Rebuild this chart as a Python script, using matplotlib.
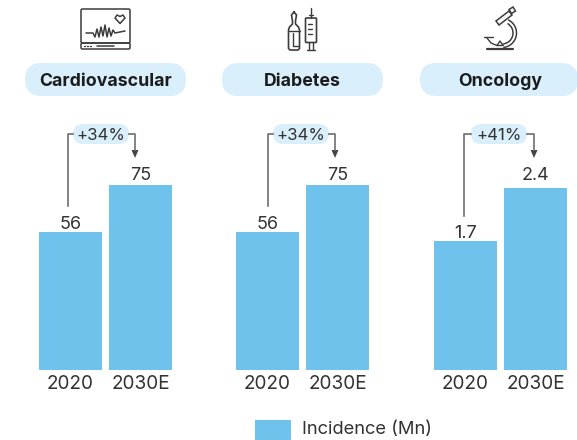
import matplotlib
matplotlib.use("Agg")
import matplotlib.pyplot as plt
from matplotlib.patches import FancyBboxPatch, Rectangle, Polygon, Arc

W, H = 577, 440
TITLES = ["Cardiovascular", "Diabetes", "Oncology"]
YEARS = ["2020", "2030E"]
VALUES_CARDIO = [56, 75]
VALUES_DIAB = [56, 75]
VALUES_ONCO = [1.7, 2.4]
VALUE_LABELS = [["56", "75"], ["56", "75"], ["1.7", "2.4"]]
GROWTH = ["+34%", "+41%"]
LEGEND = "Incidence (Mn)"

BAR = "#6EC2EB"
PILL = "#D9EFFB"
TXT = "#333333"
LINE = "#6e6e6e"
ICON = "#3c3c3c"
REG = "Inter"
BOLD = "Inter"

def px(v):
    return v * 0.72

fig = plt.figure(figsize=(W / 100, H / 100), dpi=100, facecolor="white")

ov = fig.add_axes([0, 0, 1, 1], zorder=1)
ov.set_xlim(0, W)
ov.set_ylim(H, 0)
ov.axis("off")

def pill(x0, x1, y0, y1, color=PILL):
    r = (y1 - y0) / 2
    ov.add_patch(FancyBboxPatch((x0 + r, y0 + r), x1 - x0 - 2 * r, 0.001,
                                boxstyle=f"round,pad={r},rounding_size={r}",
                                fc=color, ec="none", clip_on=True, mutation_aspect=1))

panels = [
    dict(left=39, vals=VALUES_CARDIO, scale=185 / 75, pill=(25, 186), cx=105.5,
         gp=(73, 129), gl=68, ga=135, lend=206.5, growth=GROWTH[0], off=(3, 5)),
    dict(left=236, vals=VALUES_DIAB, scale=185 / 75, pill=(222, 383), cx=302.5,
         gp=(273, 329), gl=268, ga=335, lend=206.5, growth=GROWTH[0], off=(3, 5)),
    dict(left=434, vals=VALUES_ONCO, scale=182 / 2.4, pill=(420, 578), cx=500,
         gp=(471, 527), gl=464, ga=534, lend=216, growth=GROWTH[1], off=(3, 8)),
]
BAR_W, BAR_STEP, BASE, TOP = 63, 70, 370, 100

for i, p in enumerate(panels):
    x0 = p["left"] - (BAR_STEP - BAR_W) / 2
    ax = fig.add_axes([x0 / W, 1 - BASE / H, 2 * BAR_STEP / W, (BASE - TOP) / H], zorder=0)
    ax.set_xlim(-0.5, 1.5)
    ax.set_ylim(0, (BASE - TOP) / p["scale"])
    bars = ax.bar(range(2), p["vals"], width=BAR_W / BAR_STEP, color=BAR)
    ax.set_xticks(range(2), YEARS, fontsize=px(19), color=TXT, family=REG)
    ax.tick_params(axis="x", length=0, pad=3.5)
    ax.set_yticks([])
    for s in ax.spines.values():
        s.set_visible(False)
    ax.patch.set_alpha(0)
    for b, lab, off in zip(bars, VALUE_LABELS[i], p["off"]):
        ax.annotate(lab, (b.get_x() + b.get_width() / 2, b.get_height()),
                    xytext=(0, px(off)), textcoords="offset points", ha="center", va="baseline",
                    fontsize=px(18), color=TXT, family=REG)
    pill(p["pill"][0], p["pill"][1], 63, 96)
    ov.text(p["cx"], 81.5, TITLES[i], ha="center", va="center", fontsize=px(17.7),
            fontweight="bold", family=BOLD, color="#1c1c1c")
    y = 134
    ov.plot([p["gl"], p["gl"], p["gp"][0]], [p["lend"], y, y], color=LINE, lw=1.2, solid_joinstyle="round")
    ov.plot([p["gp"][1], p["ga"], p["ga"]], [y, y, 150], color=LINE, lw=1.2, solid_joinstyle="round")
    ov.add_patch(Polygon([(p["ga"] - 3.5, 150), (p["ga"] + 3.5, 150), (p["ga"], 158)], fc="#444444", ec="none"))
    pill(p["gp"][0], p["gp"][1], 124, 144)
    ov.text(sum(p["gp"]) / 2, 135, p["growth"], ha="center", va="center",
            fontsize=px(16.8), color=TXT, family=REG)

def ln(xs, ys, lw=1.0):
    ov.plot(xs, ys, color=ICON, lw=lw, solid_capstyle="round", solid_joinstyle="round")

def box(x, y, w, h, r=1.5, lw=1.1):
    ov.add_patch(FancyBboxPatch((x + r, y + r), w - 2 * r, h - 2 * r,
                                boxstyle=f"round,pad={r},rounding_size={r}", fc="none", ec=ICON, lw=lw))

# monitor
box(81, 9, 49, 34)
box(81, 43, 49, 6)
ln([86, 93, 95, 97, 99, 101, 103, 105, 107, 109, 111, 113, 115, 125],
   [33, 33, 37, 29, 37, 27, 36, 25, 37, 28, 36, 30, 33, 31], 1.1)
ov.add_patch(Polygon([(115, 18), (117, 15), (120, 16.5), (123, 15), (125, 18), (120, 23.5)],
                     fc="none", ec=ICON, lw=1.1, joinstyle="round"))
ln([97, 114], [45.8, 45.8], 1.1)
ln([84, 85], [45.8, 45.8], 1.0); ln([87, 88], [45.8, 45.8], 1.0); ln([90, 91], [45.8, 45.8], 1.0)

# ampoule
ov.plot([294, 291.5, 292.5, 292.5, 289.5, 288.5, 288.5, 290, 298, 299.5, 299.5, 298.5, 295.5, 295.5, 296.5, 294],
        [12, 15, 21, 24, 27, 30, 48.5, 50, 50, 48.5, 30, 27, 24, 21, 15, 12], color=ICON, lw=1.2,
        solid_joinstyle="round")
ln([293, 293, 298], [33, 46, 46])
ln([288.5, 299.5], [31.5, 31.5])
# syringe
box(305.5, 18, 11, 24.5, r=1, lw=1.2)
ln([311, 311], [8, 18]); ln([309, 313], [15, 15])
ln([308, 312], [24, 24]); ln([308, 312], [29, 29]); ln([308, 312], [34, 34])
ln([309, 309], [42.5, 50]); ln([313, 313], [42.5, 50]); ln([307, 315], [50, 50])

# microscope
ln([487, 513], [49, 49], 1.6)
ln([484, 493], [37, 37]); ln([487, 491, 497, 503], [38, 43, 45.5, 45.5])
ln([497, 500, 503], [45.5, 41, 45.5])
ov.add_patch(Arc((502, 33), 29, 29, theta1=-65, theta2=85, ec=ICON, lw=1.1))
ov.add_patch(Arc((502, 33), 22, 22, theta1=-60, theta2=85, ec=ICON, lw=1.1))
ov.add_patch(Polygon([(496, 21), (509, 11), (512, 15), (499, 25)], fc="none", ec=ICON, lw=1.1))
ov.add_patch(Polygon([(509, 9.5), (513, 7), (515.5, 11), (511.5, 13.5)], fc="none", ec=ICON, lw=1.1))

# legend
ov.add_patch(Rectangle((255, 420), 36, 20, fc=BAR, ec="none"))
ov.text(302, 429.5, LEGEND, ha="left", va="center", fontsize=px(18.4), color=TXT, family=REG)

fig.savefig("out.png", dpi=100, facecolor="white")
